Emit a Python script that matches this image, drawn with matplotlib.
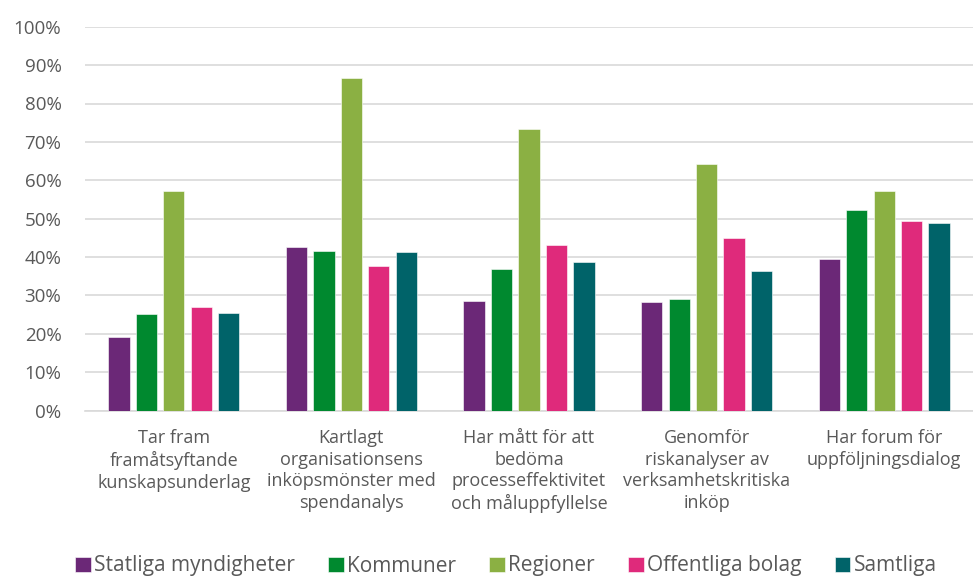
import numpy as np
import matplotlib.pyplot as plt
from matplotlib.ticker import PercentFormatter

# categories and series (share in %)
categories = [
    'Tar fram\nframåtsyftande\nkunskapsunderlag',
    'Kartlagt\norganisationsens\ninköpsmönster med\nspendanalys',
    'Har mått för att\nbedöma\nprocesseffektivitet\noch måluppfyllelse',
    'Genomför\nriskanalyser av\nverksamhetskritiska\ninköp',
    'Har forum för\nuppföljningsdialog',
]
series_names = ['Statliga myndigheter', 'Kommuner', 'Regioner', 'Offentliga bolag', 'Samtliga']
statliga = [19.2, 42.6, 28.5, 28.4, 39.5]
kommuner = [25.1, 41.5, 37.0, 29.1, 52.3]
regioner = [57.2, 86.6, 73.3, 64.3, 57.2]
bolag = [26.9, 37.7, 43.1, 45.0, 49.4]
samtliga = [25.4, 41.3, 38.6, 36.4, 48.8]
colors = ['#6B2877', '#00892F', '#8BB043', '#DF2A7B', '#006369']

values = [statliga, kommuner, regioner, bolag, samtliga]

plt.rcParams['font.family'] = ['Open Sans', 'DejaVu Sans']
text_col = '#595959'

fig = plt.figure(figsize=(9.73, 5.78), dpi=100)
ax = fig.add_axes([85 / 973, 1 - 410.7 / 578, 888 / 973, 384 / 578])

x = np.arange(len(categories))
pitch = 0.1545
width = 0.12
for i, (name, vals, c) in enumerate(zip(series_names, values, colors)):
    ax.bar(x + (i - 2) * pitch, vals, width, color=c, label=name,
           edgecolor='white', linewidth=0.4, zorder=3)

ax.set_xlim(-0.5, 4.5)
ax.set_ylim(0, 100)
ax.set_yticks(np.arange(0, 101, 10))
ax.yaxis.set_major_formatter(PercentFormatter(decimals=0))
ax.grid(axis='y', color='#D9D9D9', linewidth=1.2, zorder=0)
ax.set_xticks(x)
ax.set_xticklabels(categories, linespacing=1.27)
ax.tick_params(axis='x', length=0, labelsize=13, labelcolor=text_col, pad=13)
ax.tick_params(axis='y', length=0, labelsize=13.5, labelcolor=text_col, pad=17)
for s in ['top', 'right', 'left']:
    ax.spines[s].set_visible(False)
ax.spines['bottom'].set_color('#D9D9D9')
ax.spines['bottom'].set_linewidth(1.2)

leg = fig.legend(loc='center', bbox_to_anchor=(506 / 973, 1 - 566 / 578), ncol=5,
                 frameon=False, fontsize=15, handlelength=0.75, handleheight=0.75,
                 handletextpad=0.15, columnspacing=1.6)
for t in leg.get_texts():
    t.set_color(text_col)

fig.savefig('out.png', dpi=100)
